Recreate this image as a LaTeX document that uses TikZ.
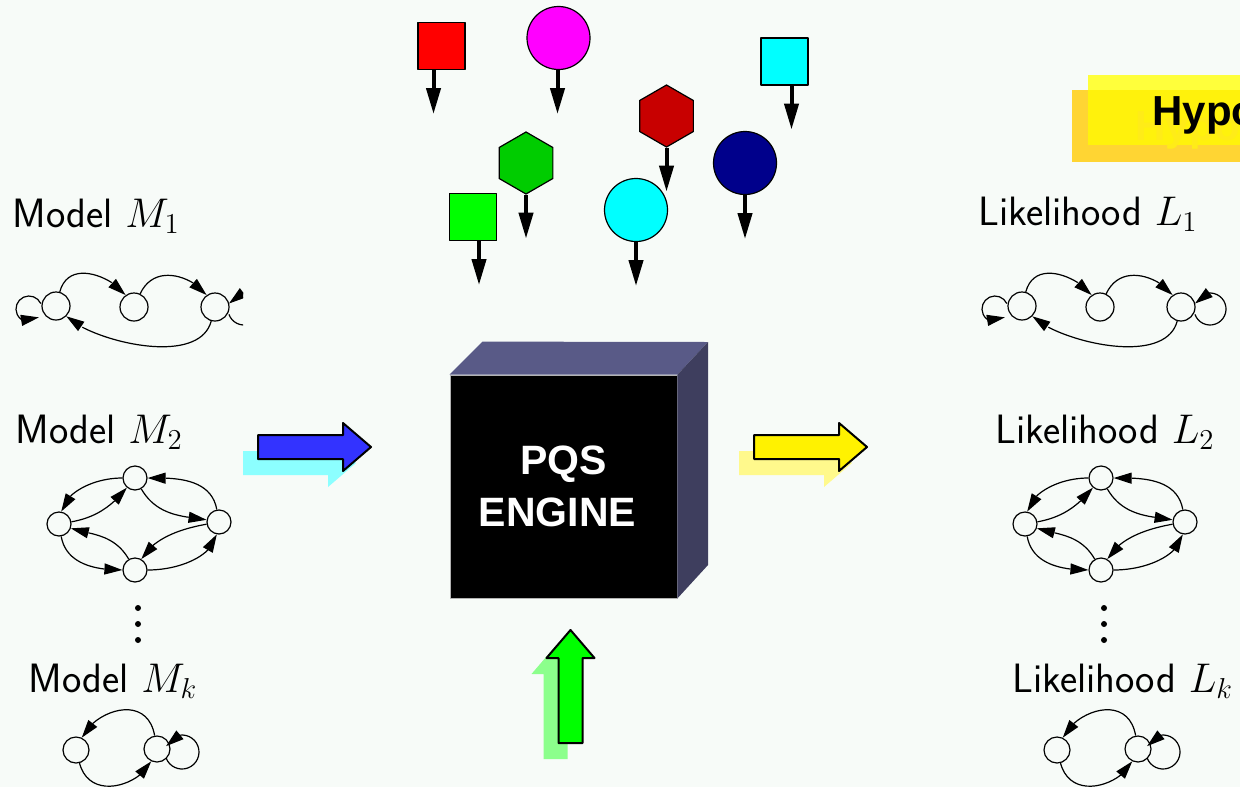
\documentclass[tikz,border=0pt]{standalone}
\usepackage{fontspec}
\newfontfamily\headfont{Liberation Sans}
\usetikzlibrary{arrows.meta,bending,shapes.geometric}
\definecolor{bgcol}{RGB}{247,251,248}
\definecolor{cubetop}{RGB}{89,90,135}
\definecolor{cubeside}{RGB}{62,62,94}
\definecolor{hexred}{RGB}{200,0,0}
\definecolor{hexgreen}{RGB}{0,204,0}
\definecolor{navyblue}{RGB}{0,0,139}
\definecolor{pink}{RGB}{255,0,255}
\definecolor{aqua}{RGB}{0,255,255}
\definecolor{aquashadow}{RGB}{140,255,255}
\definecolor{boxyellow}{RGB}{255,255,59}
\definecolor{boxover}{RGB}{255,242,12}
\definecolor{boxshadow}{RGB}{255,213,51}
\definecolor{ghosttext}{RGB}{255,236,24}
\tikzset{
  state/.style={circle,draw,line width=.6pt,inner sep=0pt,minimum size=#1},
  state/.default=14pt,
  garr/.style={line width=.6pt,-{Triangle[length=9pt,width=5.5pt]}},
  drop/.style={line width=2pt,-{Triangle[length=13pt,width=7pt]}},
  caption/.style={anchor=base west,inner sep=0pt,font=\sffamily\fontsize{20.5}{24}\selectfont},
  sq/.style={draw,line width=.6pt,inner sep=0pt,minimum size=23.5pt},
  ball/.style={circle,draw,line width=.6pt,inner sep=0pt,minimum size=31.5pt},
  hexa/.style={regular polygon,regular polygon sides=6,shape border rotate=30,draw,line width=.6pt,inner sep=0pt,minimum size=31pt},
  fatarrow/.pic={\path[pic actions] (0,-12)--(85,-12)--(85,-24)--(113,0)--(85,24)--(85,12)--(0,12)--cycle;},
  chain/.pic={
    \node[state] (-a) at (0,0) {};
    \node[state] (-b) at (78,-1) {};
    \node[state] (-c) at (159,-1) {};
    \draw[garr] (-a) to[out=75,in=125,looseness=1.2] (-b);
    \draw[garr] (-b) to[out=65,in=125,looseness=1.2] (-c);
    \draw[garr] (-c) to[out=-105,in=-45,looseness=.8] (-a);
    \draw[garr] ([shift={(25:13)}]-27,-3) arc[start angle=25,end angle=320,radius=13];
    \draw[garr] ([shift={(-160:16)}]188,-3) arc[start angle=-160,end angle=160,radius=16];
  },
  diamond/.pic={
    \node[state=12pt] (-t) at (0,46) {};
    \node[state=12pt] (-l) at (-76,0) {};
    \node[state=12pt] (-r) at (84,2) {};
    \node[state=12pt] (-b) at (0,-46) {};
    \draw[garr] (-t) to[out=180,in=80] (-l);
    \draw[garr] (-l) to[out=10,in=230] (-t);
    \draw[garr] (-t) to[out=-60,in=170] (-r);
    \draw[garr] (-r) to[out=100,in=0] (-t);
    \draw[garr] (-b) to[out=120,in=-20] (-l);
    \draw[garr] (-l) to[out=-80,in=180] (-b);
    \draw[garr] (-r) to[out=190,in=60] (-b);
    \draw[garr] (-b) to[out=0,in=-100] (-r);
  },
  pair/.pic={
    \node[state=13pt] (-l) at (0,0) {};
    \node[state=13pt] (-r) at (81,1) {};
    \draw[garr] (-r) to[out=100,in=65,looseness=1.4] (-l);
    \draw[garr] (-l) to[out=-75,in=-115,looseness=1.3] (-r);
    \draw[garr] ([shift={(-160:17)}]106,-2) arc[start angle=-160,end angle=160,radius=17];
  }
}
\begin{document}
\begin{tikzpicture}[x=.5pt,y=.5pt,line join=round]
\fill[bgcol] (0,0) rectangle (1240,-787);
\useasboundingbox (0,0) rectangle (1240,-787);
\clip (0,0) rectangle (1240,-787);
% hypothesis box
\fill[boxshadow] (1072,-90) rectangle (1240,-162);
\fill[boxyellow] (1088,-75) rectangle (1240,-145);
\fill[boxover] (1088,-90) rectangle (1240,-145);
\node[anchor=base west,inner sep=0pt,text=ghosttext,font=\headfont\bfseries\fontsize{21}{25}\selectfont] (hypoghost) at (1135,-140) {Hypo};
\node[anchor=base west,inner sep=0pt,font=\headfont\bfseries\fontsize{21}{25}\selectfont] (hypo) at (1152,-125) {Hypo};
% falling pieces
\node[sq,fill=red] (redsq) at (441.5,-46) {};
\node[ball,fill=pink] (magball) at (558.5,-38) {};
\node[sq,fill=aqua] (cyansq) at (784.5,-61.5) {};
\node[hexa,fill=hexred] (redhex) at (666.5,-116) {};
\node[hexa,fill=hexgreen] (greenhex) at (526,-163) {};
\node[ball,fill=navyblue] (navyball) at (745,-163) {};
\node[sq,fill=green] (greensq) at (473,-217) {};
\node[ball,fill=aqua] (cyanball) at (636,-210) {};
\foreach \s/\dx in {redsq/-8,magball/-1,cyansq/7,redhex/0,greenhex/0,navyball/0,greensq/6,cyanball/0}
  \draw[drop] ([xshift=\dx*.5pt]\s.south) -- ++(0,-44);
% models
\node[caption] (m1) at (12,-227) {Model $M_1$};
\node[caption] (m2) at (15,-443) {Model $M_2$};
\node[caption] (mk) at (28,-692) {Model $M_k$};
\begin{scope}
\clip (0,0) rectangle (243,-787);
\pic (g1) at (56,-306) {chain};
\end{scope}
\pic (g2) at (135,-524) {diamond};
\pic (gk) at (76,-750) {pair};
% likelihoods
\node[caption] (l1) at (978,-225) {Likelihood $L_1$};
\node[caption] (l2) at (995,-443) {Likelihood $L_2$};
\node[caption] (lk) at (1012,-692) {Likelihood $L_k$};
\pic (h1) at (1022,-306) {chain};
\pic (h2) at (1101,-524) {diamond};
\pic (hk) at (1057,-750) {pair};
\foreach \y in {608,624,640}{
  \fill (138,-\y) circle[radius=3];
  \fill (1104,-\y) circle[radius=3];
}
% engine
\coordinate (backtr) at (708,-342);
\coordinate (backbr) at (708,-565);
\node[draw=gray!60,fill=black,minimum width=113.5pt,minimum height=111.5pt,text=white,align=center,
  font=\headfont\bfseries\fontsize{20.5}{26}\selectfont] (engine) at (563.5,-486.5) {PQS\\ENGINE\hspace*{6pt}};
\fill[cubetop] (engine.north west) -- ++(33,33) -- (backtr) -- (engine.north east) -- cycle;
\fill[cubeside] (engine.north east) -- (backtr) -- (backbr) -- (engine.south east) -- cycle;
% big arrows
\pic[fill=aquashadow] at (243,-463) {fatarrow};
\pic[draw,line width=1pt,fill=blue!80] at (258,-447) {fatarrow};
\pic[fill=yellow!45] at (739,-463) {fatarrow};
\pic[draw,line width=1pt,fill=yellow] at (754,-447) {fatarrow};
\pic[rotate=90,fill=green!45] at (555.5,-759) {fatarrow};
\pic[rotate=90,draw,line width=1pt,fill=green] at (570.5,-743) {fatarrow};
\end{tikzpicture}
\end{document}
